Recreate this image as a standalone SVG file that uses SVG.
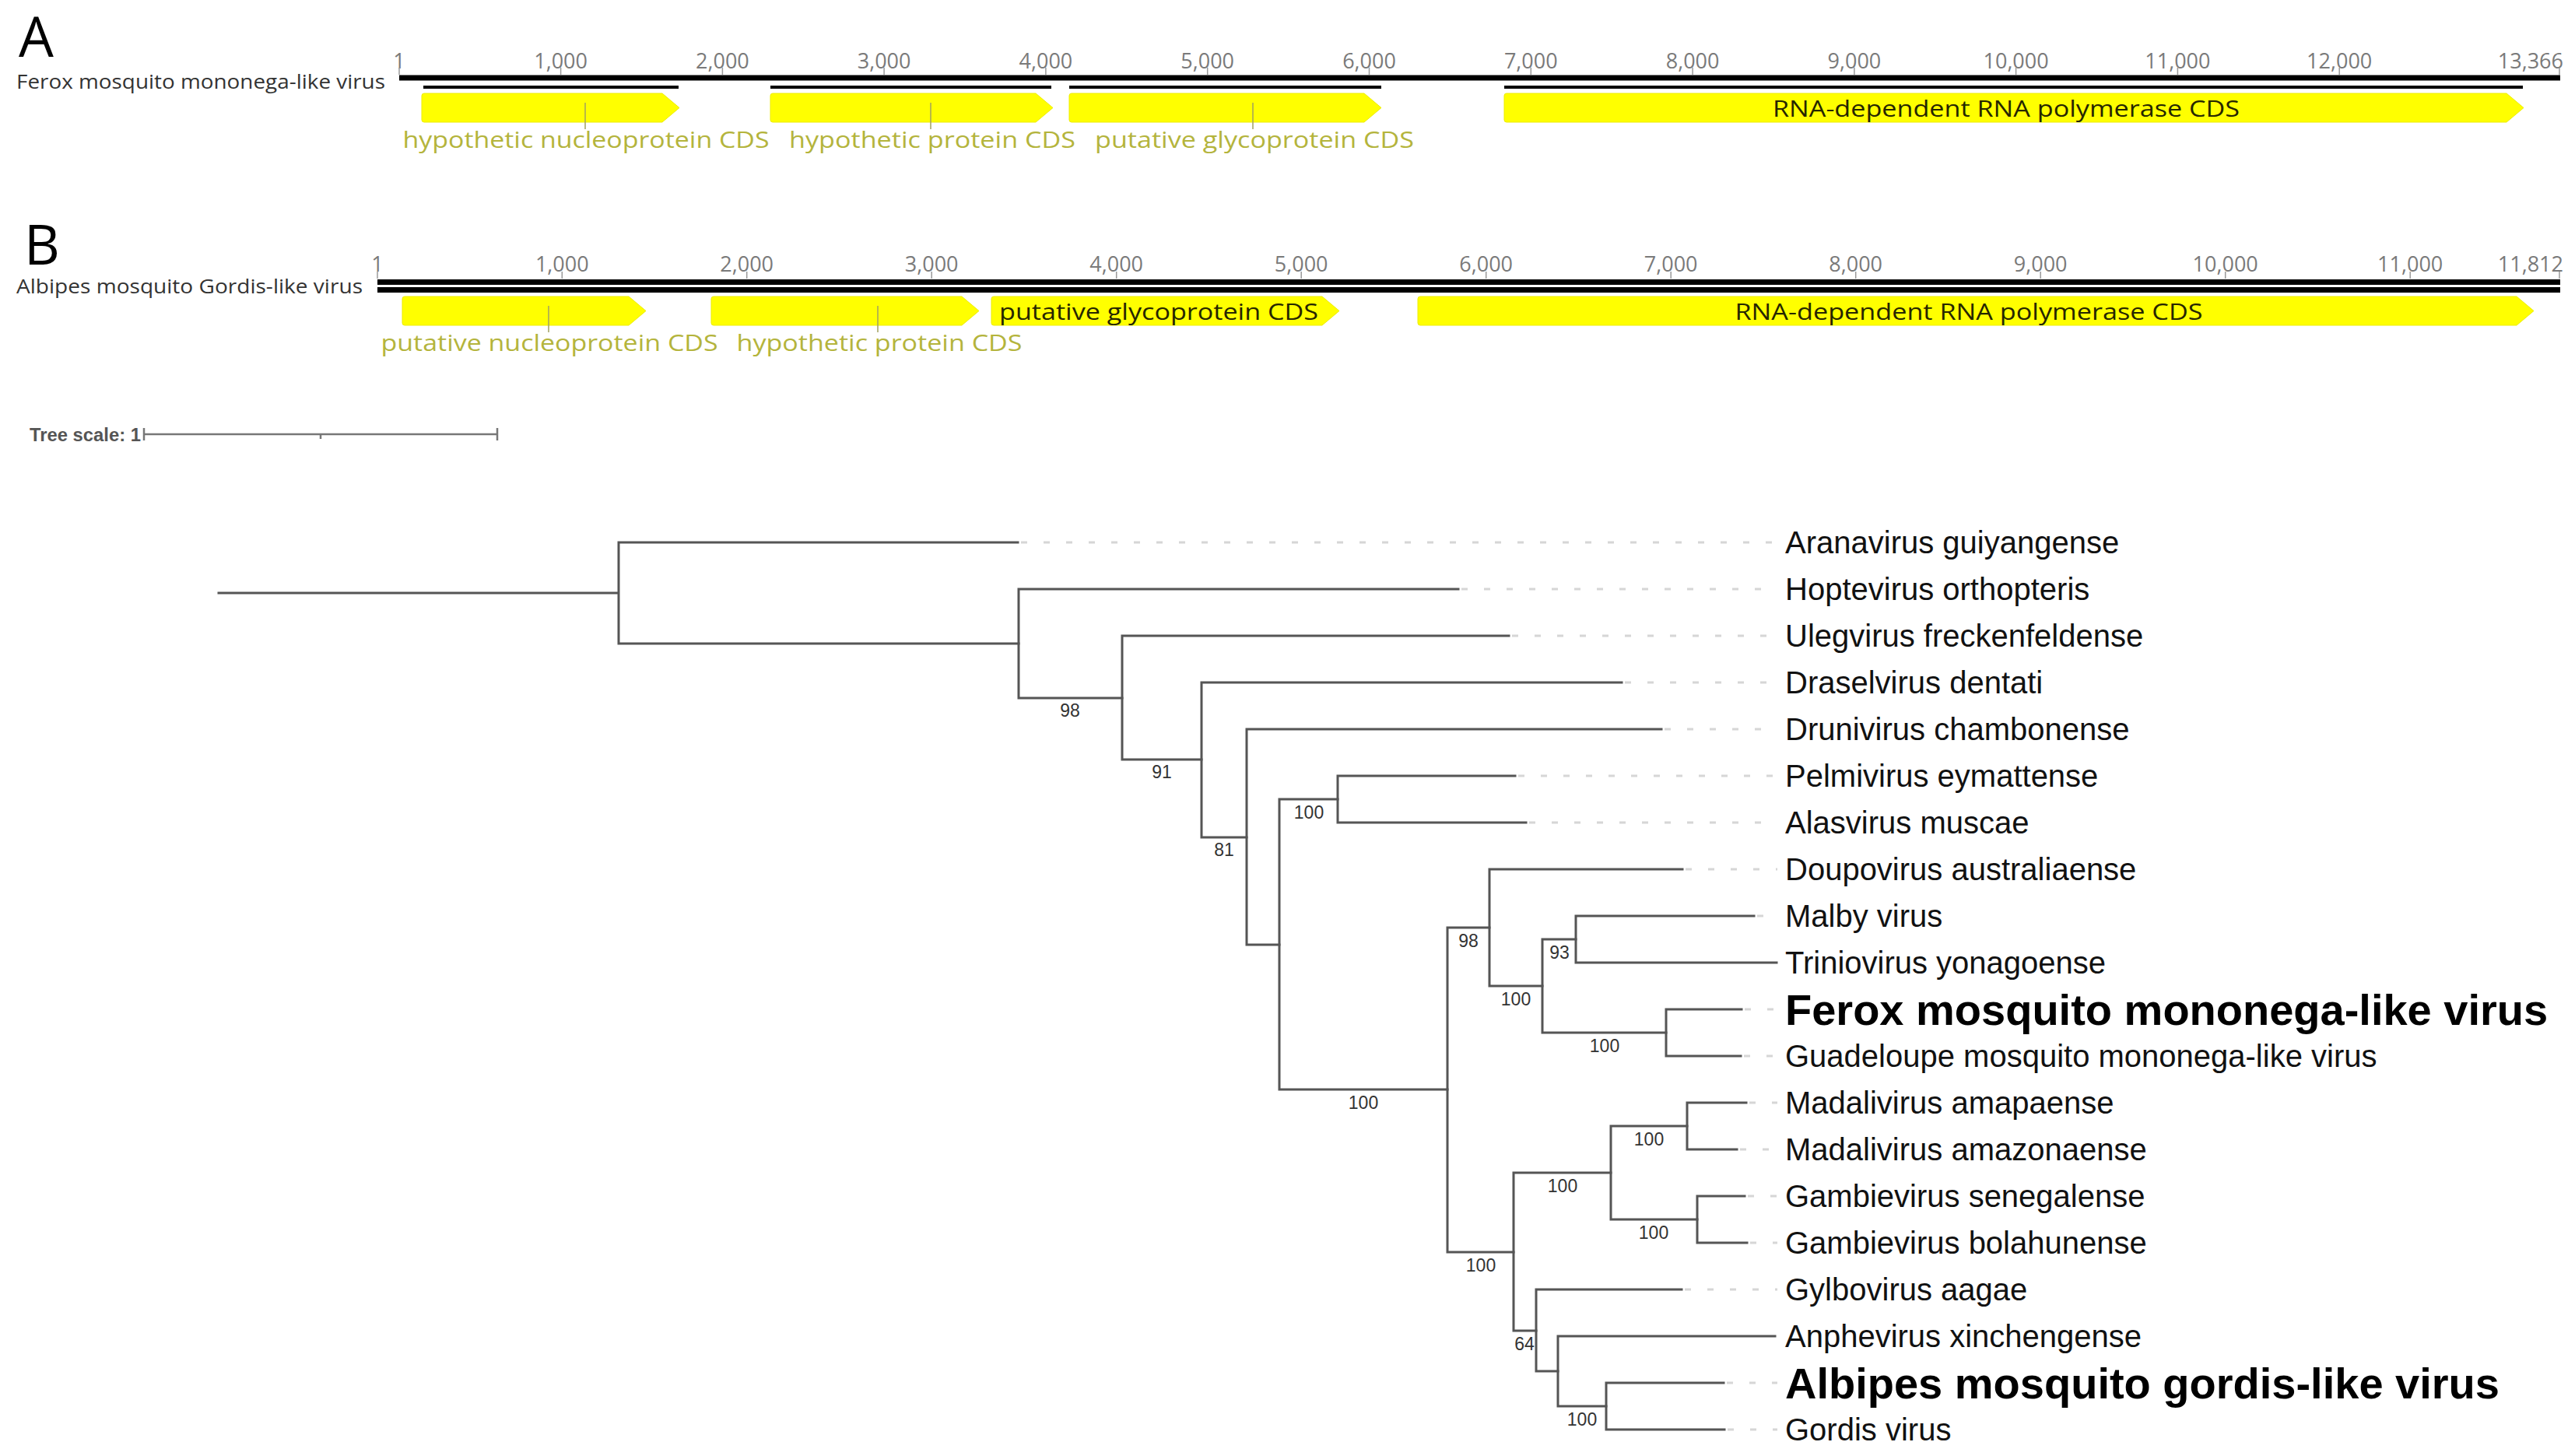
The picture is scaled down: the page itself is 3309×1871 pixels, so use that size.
<svg xmlns="http://www.w3.org/2000/svg" width="3309" height="1871" viewBox="0 0 3309 1871">
<style>
.panel{font-family:"Open Sans","DejaVu Sans",sans-serif;font-size:71px;fill:#000}
.gname{font-family:"Open Sans","DejaVu Sans",sans-serif;font-size:26px;fill:#333}
.tick{font-family:"Open Sans","DejaVu Sans",sans-serif;font-size:27px;fill:#7a7a7a;text-anchor:middle}
.tickm{stroke:#9a9a9a;stroke-width:1.5}
.seq{fill:#000}
.cds{fill:#ffff00;stroke:#eded00;stroke-width:1}
.clab{font-family:"Open Sans","DejaVu Sans",sans-serif;font-size:29px;fill:#b4b43c;text-anchor:middle}
.cin{font-family:"Open Sans","DejaVu Sans",sans-serif;font-size:29px;fill:#262600;text-anchor:middle}
.cpin{stroke:#a0a060;stroke-width:1.5}
.br{fill:none;stroke:#555;stroke-width:3;stroke-linecap:square}
.lead{fill:none;stroke:#d6d6d6;stroke-width:3;stroke-dasharray:8 21}
.leaf{font-family:"Liberation Sans",Arial,sans-serif;font-size:40px;fill:#111}
.leafb{font-family:"Liberation Sans",Arial,sans-serif;font-size:56px;font-weight:bold;fill:#000}
.sup{font-family:"Liberation Sans",Arial,sans-serif;font-size:23px;fill:#333;text-anchor:middle}
.scale{font-family:"Liberation Sans",Arial,sans-serif;font-size:24px;font-weight:bold;fill:#555}
</style>
<rect x="0" y="0" width="3309" height="1871" fill="#fff"/>

<!-- Panel A -->
<g id="panelA">
<text class="panel" x="24" y="73">A</text>
<text class="gname" x="21" y="114" textLength="474" lengthAdjust="spacingAndGlyphs">Ferox mosquito mononega-like virus</text>
<rect class="seq" x="513" y="96.5" width="2777" height="7"/>
<g id="ticksA">
<text class="tick" x="513" y="88">1</text>
<text class="tick" x="720.6" y="88">1,000</text>
<text class="tick" x="928.4" y="88">2,000</text>
<text class="tick" x="1136.1" y="88">3,000</text>
<text class="tick" x="1343.9" y="88">4,000</text>
<text class="tick" x="1551.7" y="88">5,000</text>
<text class="tick" x="1759.5" y="88">6,000</text>
<text class="tick" x="1967.3" y="88">7,000</text>
<text class="tick" x="2175.1" y="88">8,000</text>
<text class="tick" x="2382.9" y="88">9,000</text>
<text class="tick" x="2590.6" y="88">10,000</text>
<text class="tick" x="2798.4" y="88">11,000</text>
<text class="tick" x="3006.2" y="88">12,000</text>
<text class="tick" x="3294" y="88" style="text-anchor:end">13,366</text>
<path class="tickm" d="M513,87V96M720.6,87V96M928.4,87V96M1136.1,87V96M1343.9,87V96M1551.7,87V96M1759.5,87V96M1967.3,87V96M2175.1,87V96M2382.9,87V96M2590.6,87V96M2798.4,87V96M3006.2,87V96M3289,87V96"/>
</g>
<g id="cdsA1">
<rect class="seq" x="544" y="110" width="328" height="4"/>
<path class="cds" d="M545,120H851L873,138.5L851,157H545Q542,157 542,154V123Q542,120 545,120Z"/>
<line class="cpin" x1="752" y1="132" x2="752" y2="166"/>
<text class="clab" x="753" y="190" textLength="471" lengthAdjust="spacingAndGlyphs">hypothetic nucleoprotein CDS</text>
</g>
<g id="cdsA2">
<rect class="seq" x="990" y="110" width="361" height="4"/>
<path class="cds" d="M993,120H1331L1353,138.5L1331,157H993Q990,157 990,154V123Q990,120 993,120Z"/>
<line class="cpin" x1="1196" y1="132" x2="1196" y2="166"/>
<text class="clab" x="1198" y="190" textLength="368" lengthAdjust="spacingAndGlyphs">hypothetic protein CDS</text>
</g>
<g id="cdsA3">
<rect class="seq" x="1374" y="110" width="401" height="4"/>
<path class="cds" d="M1377,120H1753L1775,138.5L1753,157H1377Q1374,157 1374,154V123Q1374,120 1377,120Z"/>
<line class="cpin" x1="1610" y1="132" x2="1610" y2="166"/>
<text class="clab" x="1612" y="190" textLength="410" lengthAdjust="spacingAndGlyphs">putative glycoprotein CDS</text>
</g>
<g id="cdsA4">
<rect class="seq" x="1933" y="110" width="1309" height="4"/>
<path class="cds" d="M1936,120H3221L3243,138.5L3221,157H1936Q1933,157 1933,154V123Q1933,120 1936,120Z"/>
<text class="cin" x="2578" y="150" textLength="600" lengthAdjust="spacingAndGlyphs">RNA-dependent RNA polymerase CDS</text>
</g>
</g>

<!-- Panel B -->
<g id="panelB">
<text class="panel" x="31" y="340">B</text>
<text class="gname" x="21" y="377" textLength="445" lengthAdjust="spacingAndGlyphs">Albipes mosquito Gordis-like virus</text>
<rect class="seq" x="485" y="359" width="2805" height="7"/>
<rect class="seq" x="485" y="369" width="2805" height="7"/>
<g id="ticksB">
<text class="tick" x="485" y="349">1</text>
<text class="tick" x="722.3" y="349">1,000</text>
<text class="tick" x="959.7" y="349">2,000</text>
<text class="tick" x="1197.2" y="349">3,000</text>
<text class="tick" x="1434.7" y="349">4,000</text>
<text class="tick" x="1672.2" y="349">5,000</text>
<text class="tick" x="1909.7" y="349">6,000</text>
<text class="tick" x="2147.2" y="349">7,000</text>
<text class="tick" x="2384.7" y="349">8,000</text>
<text class="tick" x="2622.2" y="349">9,000</text>
<text class="tick" x="2859.7" y="349">10,000</text>
<text class="tick" x="3097.2" y="349">11,000</text>
<text class="tick" x="3294" y="349" style="text-anchor:end">11,812</text>
<path class="tickm" d="M485,349V358M722.3,349V358M959.7,349V358M1197.2,349V358M1434.7,349V358M1672.2,349V358M1909.7,349V358M2147.2,349V358M2384.7,349V358M2622.2,349V358M2859.7,349V358M3097.2,349V358M3289,349V358"/>
</g>
<g id="cdsB1">
<path class="cds" d="M520,381H808L830,399.5L808,418H520Q517,418 517,415V384Q517,381 520,381Z"/>
<line class="cpin" x1="705" y1="393" x2="705" y2="427"/>
<text class="clab" x="706" y="451" textLength="433" lengthAdjust="spacingAndGlyphs">putative nucleoprotein CDS</text>
</g>
<g id="cdsB2">
<path class="cds" d="M917,381H1236L1258,399.5L1236,418H917Q914,418 914,415V384Q914,381 917,381Z"/>
<line class="cpin" x1="1128" y1="393" x2="1128" y2="427"/>
<text class="clab" x="1130" y="451" textLength="367" lengthAdjust="spacingAndGlyphs">hypothetic protein CDS</text>
</g>
<g id="cdsB3">
<path class="cds" d="M1277,381H1699L1721,399.5L1699,418H1277Q1274,418 1274,415V384Q1274,381 1277,381Z"/>
<text class="cin" x="1489" y="411" textLength="410" lengthAdjust="spacingAndGlyphs">putative glycoprotein CDS</text>
</g>
<g id="cdsB4">
<path class="cds" d="M1825,381H3234L3256,399.5L3234,418H1825Q1822,418 1822,415V384Q1822,381 1825,381Z"/>
<text class="cin" x="2530" y="411" textLength="601" lengthAdjust="spacingAndGlyphs">RNA-dependent RNA polymerase CDS</text>
</g>
</g>

<!-- Tree scale -->
<g id="treescale">
<text class="scale" x="38" y="567" textLength="143" lengthAdjust="spacingAndGlyphs">Tree scale: 1</text>
<path d="M185,558H639M185,550V566M639,550V566M412,558V564" fill="none" stroke="#777" stroke-width="2.5"/>
</g>

<!-- Tree connectors -->
<g id="connectors">
<path class="br" d="M281,762H795M795,697V827M795,697H1308M795,827H1309"/>
<path class="br" d="M1309,757V897M1309,757H1874M1309,897H1442"/>
<path class="br" d="M1442,817V976M1442,817H1939M1442,976H1544"/>
<path class="br" d="M1544,877V1076M1544,877H2084M1544,1076H1602"/>
<path class="br" d="M1602,937V1214M1602,937H2135M1602,1214H1644"/>
<path class="br" d="M1644,1027V1400M1644,1027H1719M1644,1400H1860"/>
<path class="br" d="M1719,997V1057M1719,997H1947M1719,1057H1961"/>
<path class="br" d="M1860,1192V1609M1860,1192H1914M1860,1609H1945"/>
<path class="br" d="M1914,1117V1267M1914,1117H2162M1914,1267H1982"/>
<path class="br" d="M1982,1207V1327M1982,1207H2025M1982,1327H2141"/>
<path class="br" d="M2025,1177V1237M2025,1177H2254M2025,1237H2283"/>
<path class="br" d="M2141,1297V1357M2141,1297H2238M2141,1357H2237"/>
<path class="br" d="M1945,1507V1710M1945,1507H2070M1945,1710H1974"/>
<path class="br" d="M2070,1447V1567M2070,1447H2168M2070,1567H2181"/>
<path class="br" d="M2168,1417V1477M2168,1417H2244M2168,1477H2232"/>
<path class="br" d="M2181,1537V1597M2181,1537H2242M2181,1597H2245"/>
<path class="br" d="M1974,1657V1762M1974,1657H2161M1974,1762H2002"/>
<path class="br" d="M2002,1717V1807M2002,1717H2281M2002,1807H2064"/>
<path class="br" d="M2064,1777V1837M2064,1777H2215M2064,1837H2216"/>
<path class="lead" d="M1312,697H2284M1878,757H2284M1943,817H2284M2088,877H2284M2139,937H2284M1951,997H2284M1965,1057H2284M2166,1117H2284M2258,1177H2284M2242,1297H2284M2241,1357H2284M2248,1417H2284M2236,1477H2284M2246,1537H2284M2249,1597H2284M2165,1657H2284M2219,1777H2284M2220,1837H2284"/>
</g>

<!-- Support values -->
<g id="supports">
<text class="sup" x="1375" y="921">98</text>
<text class="sup" x="1493" y="1000">91</text>
<text class="sup" x="1573" y="1100">81</text>
<text class="sup" x="1682" y="1052">100</text>
<text class="sup" x="1752" y="1425">100</text>
<text class="sup" x="1887" y="1217">98</text>
<text class="sup" x="1948" y="1292">100</text>
<text class="sup" x="2004" y="1232">93</text>
<text class="sup" x="2062" y="1352">100</text>
<text class="sup" x="1903" y="1634">100</text>
<text class="sup" x="2008" y="1532">100</text>
<text class="sup" x="2119" y="1472">100</text>
<text class="sup" x="2125" y="1592">100</text>
<text class="sup" x="1959" y="1735">64</text>
<text class="sup" x="2033" y="1832">100</text>
</g>

<!-- Leaves -->
<g id="leaf-aranavirus"><text class="leaf" x="2294" y="711">Aranavirus guiyangense</text></g>
<g id="leaf-hoptevirus"><text class="leaf" x="2294" y="771">Hoptevirus orthopteris</text></g>
<g id="leaf-ulegvirus"><text class="leaf" x="2294" y="831">Ulegvirus freckenfeldense</text></g>
<g id="leaf-draselvirus"><text class="leaf" x="2294" y="891">Draselvirus dentati</text></g>
<g id="leaf-drunivirus"><text class="leaf" x="2294" y="951">Drunivirus chambonense</text></g>
<g id="leaf-pelmivirus"><text class="leaf" x="2294" y="1011">Pelmivirus eymattense</text></g>
<g id="leaf-alasvirus"><text class="leaf" x="2294" y="1071">Alasvirus muscae</text></g>
<g id="leaf-doupovirus"><text class="leaf" x="2294" y="1131">Doupovirus australiaense</text></g>
<g id="leaf-malby"><text class="leaf" x="2294" y="1191">Malby virus</text></g>
<g id="leaf-triniovirus"><text class="leaf" x="2294" y="1251">Triniovirus yonagoense</text></g>
<g id="leaf-ferox"><text class="leafb" x="2294" y="1317">Ferox mosquito mononega-like virus</text></g>
<g id="leaf-guadeloupe"><text class="leaf" x="2294" y="1371">Guadeloupe mosquito mononega-like virus</text></g>
<g id="leaf-madal-amapaense"><text class="leaf" x="2294" y="1431">Madalivirus amapaense</text></g>
<g id="leaf-madal-amazonaense"><text class="leaf" x="2294" y="1491">Madalivirus amazonaense</text></g>
<g id="leaf-gambi-senegalense"><text class="leaf" x="2294" y="1551">Gambievirus senegalense</text></g>
<g id="leaf-gambi-bolahunense"><text class="leaf" x="2294" y="1611">Gambievirus bolahunense</text></g>
<g id="leaf-gylbovirus"><text class="leaf" x="2294" y="1671">Gylbovirus aagae</text></g>
<g id="leaf-anphevirus"><text class="leaf" x="2294" y="1731">Anphevirus xinchengense</text></g>
<g id="leaf-albipes"><text class="leafb" x="2294" y="1797">Albipes mosquito gordis-like virus</text></g>
<g id="leaf-gordis"><text class="leaf" x="2294" y="1851">Gordis virus</text></g>
</svg>
